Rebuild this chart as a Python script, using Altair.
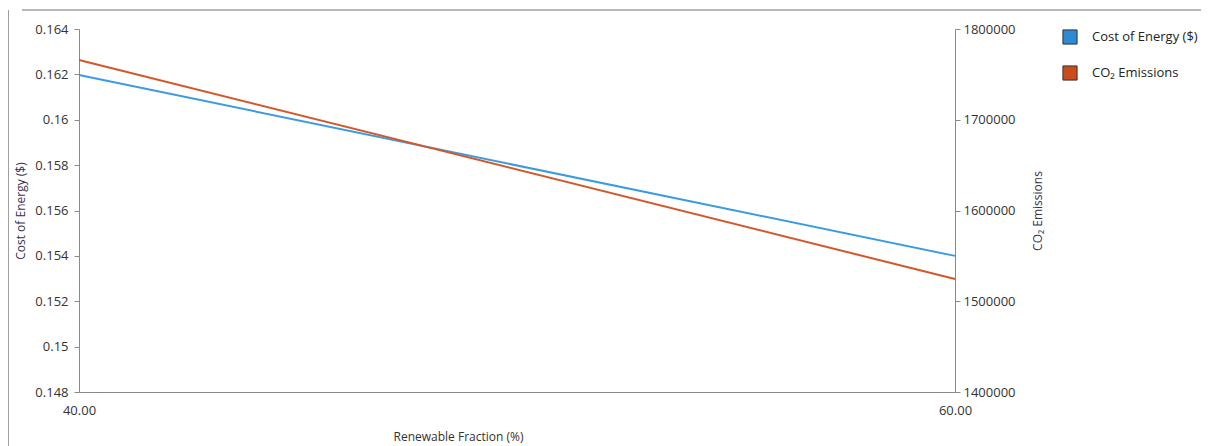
import altair as alt
import pandas as pd

renewable_fraction = [40.0, 60.0]
cost_of_energy = [0.16197, 0.15400]
co2_emissions = [1765800, 1524500]
series_names = ["Cost of Energy ($)", "CO₂ Emissions"]
series_colors = ["#2f8ad6", "#cb4b1a"]
line_colors = ["#3c9be0", "#d0582a"]

cost_df = pd.DataFrame({"x": renewable_fraction, "y": cost_of_energy, "series": series_names[0]})
co2_df = pd.DataFrame({"x": renewable_fraction, "y": co2_emissions, "series": series_names[1]})

FONT = "Open Sans"
W, H = 876, 363


def xenc():
    return alt.X("x:Q", scale=alt.Scale(domain=[40, 60], nice=False),
                 axis=alt.Axis(values=[40, 60], format=".2f", title="Renewable Fraction (%)",
                               grid=False, domainColor="#8a8a8a", tickColor="#8a8a8a",
                               tickSize=0, labelPadding=12, labelFlush=False,
                               labelColor="#333333",
                               labelFontSize=13, titleFontSize=12, titleFontWeight="normal",
                               titleColor="#333333", titleX=379, titleY=44,
                               titleAlign="center", titleBaseline="middle",
                               labelFont=FONT, titleFont=FONT))


cost_line = alt.Chart(cost_df).mark_line(strokeWidth=2, color=line_colors[0]).encode(
    x=xenc(),
    y=alt.Y("y:Q", scale=alt.Scale(domain=[0.148, 0.164], nice=False, zero=False),
            axis=alt.Axis(values=[0.148, 0.15, 0.152, 0.154, 0.156, 0.158, 0.16, 0.162, 0.164],
                          format="~g", title="Cost of Energy ($)", grid=False,
                          domainColor="#8a8a8a", tickColor="#8a8a8a", tickSize=5,
                          labelPadding=6,
                          labelColor="#333333", labelFontSize=13, labelFont=FONT,
                          titleFont=FONT, titleFontSize=12, titleFontWeight="normal",
                          titleColor="#3a3350", titleX=-59, titleY=H / 2,
                          titleAngle=270, titleAlign="center", titleBaseline="middle",
                          orient="left")),
)

co2_line = alt.Chart(co2_df).mark_line(strokeWidth=2, color=line_colors[1]).encode(
    x=xenc(),
    y=alt.Y("y:Q", scale=alt.Scale(domain=[1400000, 1800000], nice=False, zero=False),
            axis=alt.Axis(values=[1400000, 1500000, 1600000, 1700000, 1800000],
                          format="d", title="CO₂ Emissions", grid=False, orient="right",
                          domainColor="#8a8a8a", tickColor="#8a8a8a", tickSize=5,
                          labelPadding=3,
                          labelColor="#333333", labelFontSize=13, labelFont=FONT,
                          titleFont=FONT, titleFontSize=12, titleFontWeight="normal",
                          titleColor="#3a3350", titleAngle=270, titleX=82, titleY=H / 2,
                          titleAlign="center", titleBaseline="middle")),
)

legend_df = pd.DataFrame({"series": series_names})
legend_layer = alt.Chart(legend_df).mark_square(opacity=0).encode(
    color=alt.Color("series:N", scale=alt.Scale(domain=series_names, range=series_colors),
                    legend=alt.Legend(title=None, orient="none", legendX=983, legendY=0,
                                      symbolType="square", symbolSize=200,
                                      symbolStrokeColor="#333333",
                                      symbolStrokeWidth=1, symbolOpacity=1,
                                      labelFont=FONT, labelFontSize=13, labelColor="#222222",
                                      rowPadding=16, labelOffset=14)),
)

frame_top = alt.Chart(legend_df).mark_rule(color="#a0a0a0", strokeWidth=1).encode(
    x=alt.value(-57), x2=alt.value(1130), y=alt.value(-19))
frame_left = alt.Chart(legend_df).mark_rule(color="#a0a0a0", strokeWidth=1).encode(
    x=alt.value(-70.5), y=alt.value(-19), y2=alt.value(430))

chart = alt.layer(cost_line, co2_line, legend_layer, frame_top, frame_left).resolve_scale(
    y="independent", color="independent"
).properties(
    width=W, height=H,
    padding={"left": 71, "top": 21, "right": 246, "bottom": 56},
    autosize=alt.AutoSizeParams(type="none"),
).configure_view(stroke=None)

chart.save("out.html", embed_options={"renderer": "svg", "actions": False})
